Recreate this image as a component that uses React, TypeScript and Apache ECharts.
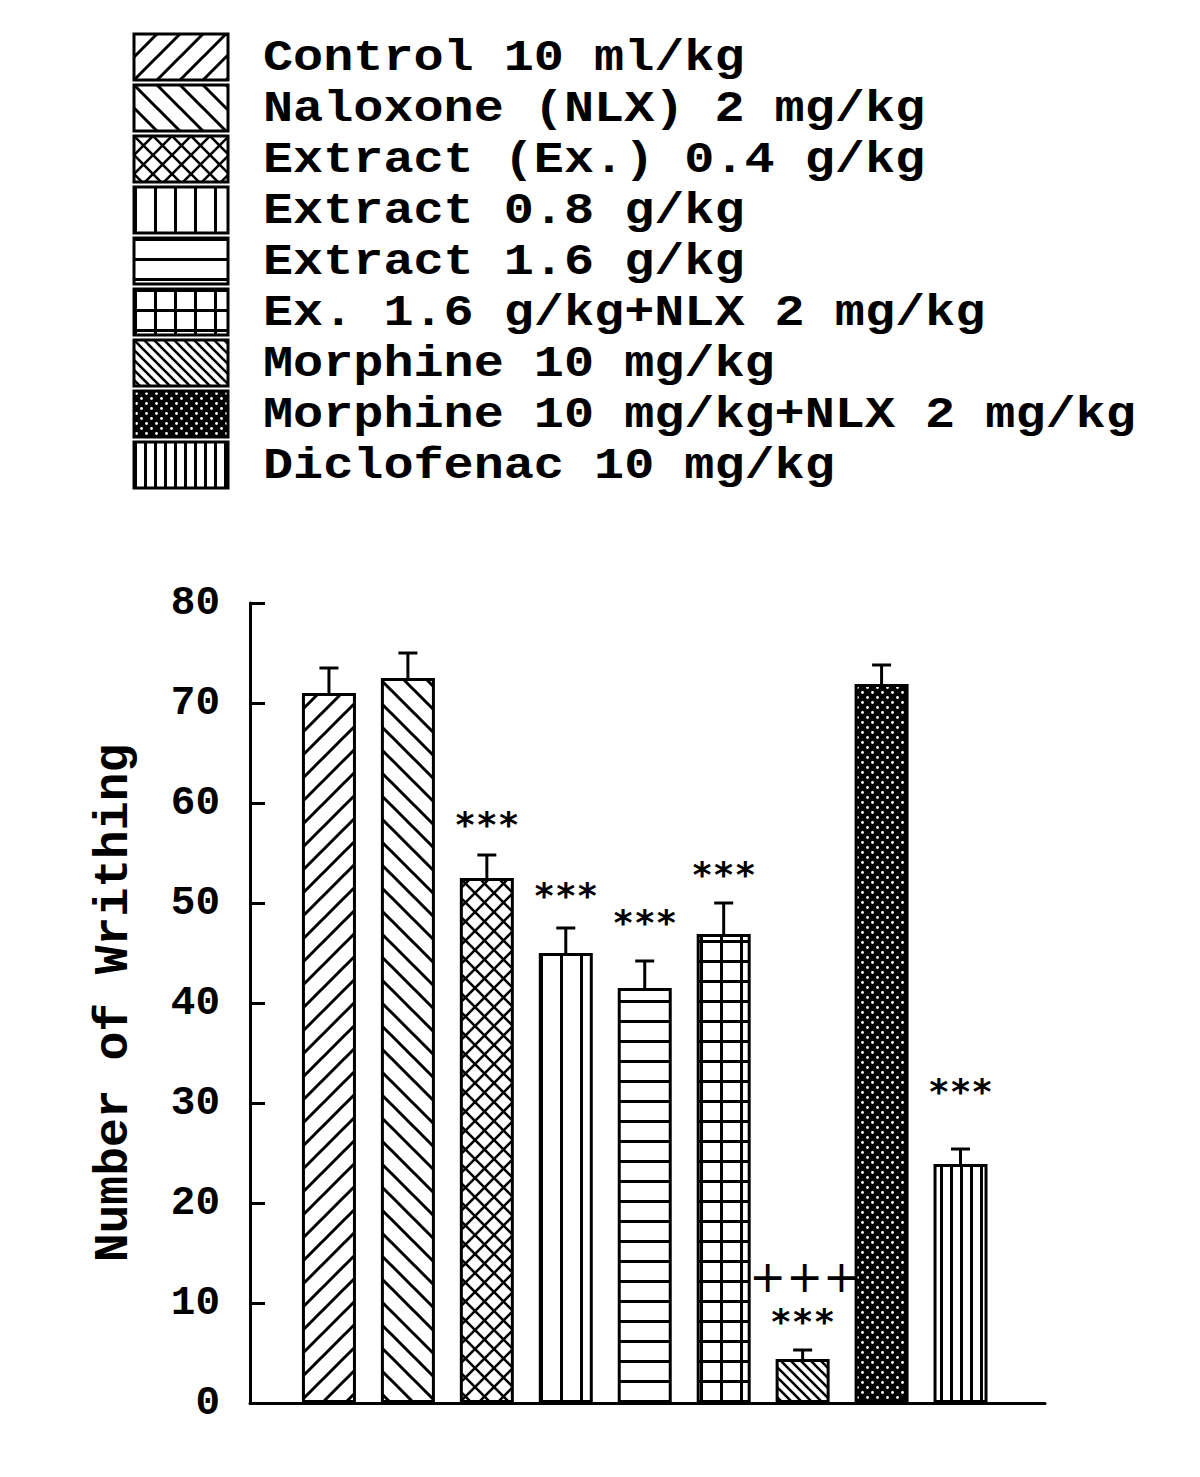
import React, { useEffect, useRef } from "react";
import * as echarts from "echarts";

// ---- data ----
const categories = [
  "Control 10 ml/kg",
  "Naloxone (NLX) 2 mg/kg",
  "Extract (Ex.) 0.4 g/kg",
  "Extract 0.8 g/kg",
  "Extract 1.6 g/kg",
  "Ex. 1.6 g/kg+NLX 2 mg/kg",
  "Morphine 10 mg/kg",
  "Morphine 10 mg/kg+NLX 2 mg/kg",
  "Diclofenac 10 mg/kg",
];
const means = [71.0, 72.5, 52.5, 45.0, 41.5, 46.9, 4.4, 71.9, 23.9];
const errors = [2.5, 2.5, 2.3, 2.5, 2.7, 3.1, 0.9, 1.9, 1.5];
const starLabels = ["", "", "***", "***", "***", "***", "***", "", "***"];
const starLevels = [null, null, 58.3, 51.2, 48.5, 53.3, 8.6, null, 31.6];
const plusLabels = ["", "", "", "", "", "", "+++", "", ""];
const plusLevels = [null, null, null, null, null, null, 12.5, null, null];
const yMin = 0;
const yMax = 80;
const yInterval = 10;
const yTitle = "Number of Writhing";

type Kind =
  | "fwd"
  | "back"
  | "cross"
  | "vert"
  | "horiz"
  | "grid"
  | "backDense"
  | "dots"
  | "vertDense";
const patternKinds: Kind[] = [
  "fwd",
  "back",
  "cross",
  "vert",
  "horiz",
  "grid",
  "backDense",
  "dots",
  "vertDense",
];

const MONO = '"Liberation Mono", "DejaVu Sans Mono", monospace';
const STAR_FONT = '"DejaVu Sans Mono", "Liberation Mono", monospace';
const PLUS_FONT = '"DejaVu Sans", sans-serif';

function makePattern(kind: Kind): any {
  let T = 20;
  if (kind === "fwd" || kind === "back") T = 23;
  if (kind === "cross") T = 19;
  if (kind === "backDense" || kind === "vertDense" || kind === "dots") T = 10;
  const c = document.createElement("canvas");
  c.width = T;
  c.height = T;
  const g = c.getContext("2d")!;
  g.fillStyle = "#fff";
  g.fillRect(0, 0, T, T);
  g.strokeStyle = "#000";
  g.fillStyle = "#000";
  const diag = (dir: number, lw: number) => {
    g.lineWidth = lw;
    for (const k of [-T, 0, T]) {
      g.beginPath();
      if (dir > 0) {
        g.moveTo(k - 2, T + 2);
        g.lineTo(k + T + 2, -2);
      } else {
        g.moveTo(k - 2, -2);
        g.lineTo(k + T + 2, T + 2);
      }
      g.stroke();
    }
  };
  switch (kind) {
    case "fwd":
      diag(1, 3);
      break;
    case "back":
      diag(-1, 3);
      break;
    case "cross":
      diag(1, 2.6);
      diag(-1, 2.6);
      break;
    case "vert":
      g.fillRect(0, 0, 3, T);
      break;
    case "horiz":
      g.fillRect(0, 0, T, 3);
      break;
    case "grid":
      g.fillRect(0, 0, 3, T);
      g.fillRect(0, 0, T, 3);
      break;
    case "backDense":
      diag(-1, 2.6);
      break;
    case "vertDense":
      g.fillRect(0, 0, 3, T);
      break;
    case "dots":
      g.fillRect(0, 0, T, T);
      g.fillStyle = "#fff";
      g.beginPath();
      g.arc(2.5, 2.5, 1.4, 0, Math.PI * 2);
      g.fill();
      g.beginPath();
      g.arc(7.5, 7.5, 1.4, 0, Math.PI * 2);
      g.fill();
      break;
  }
  return { image: c, repeat: "repeat", imageWidth: T, imageHeight: T };
}

export default function App() {
  const ref = useRef<HTMLDivElement>(null);
  useEffect(() => {
    if (!ref.current) return;
    const chart = echarts.init(ref.current, null, { renderer: "svg" });
    const patterns = patternKinds.map((k) => makePattern(k));

    const xs = categories.map((_, i) => i + 1);

    const annotations: any[] = [];
    starLabels.forEach((t, i) => {
      if (t && starLevels[i] != null) annotations.push([xs[i], starLevels[i], i, 0]);
    });
    plusLabels.forEach((t, i) => {
      if (t && plusLevels[i] != null) annotations.push([xs[i], plusLevels[i], i, 1]);
    });

    const legendGraphics: any[] = [];
    categories.forEach((name, i) => {
      legendGraphics.push({
        type: "rect",
        x: 134,
        y: 34 + i * 51,
        shape: { x: 0, y: 0, width: 94, height: 46 },
        style: { fill: patterns[i], stroke: "#000", lineWidth: 3 },
      });
      legendGraphics.push({
        type: "text",
        x: 263,
        y: 58 + i * 51,
        scaleX: 1.14,
        style: {
          text: name,
          fontFamily: MONO,
          fontWeight: "bold",
          fontSize: 44,
          lineHeight: 44,
          fill: "#000",
          verticalAlign: "middle",
          align: "left",
        },
      });
    });

    chart.setOption({
      animation: false,
      backgroundColor: "#fff",
      graphic: legendGraphics,
      grid: { left: 250, top: 603, right: 155, bottom: 74, containLabel: false },
      xAxis: {
        type: "value",
        min: 0,
        max: 10.07,
        axisLine: { show: true, onZero: false, lineStyle: { color: "#000", width: 3 } },
        axisTick: { show: false },
        axisLabel: { show: false },
        splitLine: { show: false },
      },
      yAxis: {
        type: "value",
        min: yMin,
        max: yMax,
        interval: yInterval,
        name: yTitle,
        nameLocation: "middle",
        nameGap: 112,
        nameTextStyle: {
          fontFamily: MONO,
          fontWeight: "bold",
          fontSize: 48,
          color: "#000",
        },
        axisLine: { show: true, lineStyle: { color: "#000", width: 3 } },
        axisTick: { show: true, inside: true, length: 15, lineStyle: { color: "#000", width: 3 } },
        axisLabel: {
          fontFamily: MONO,
          fontWeight: "bold",
          fontSize: 41,
          color: "#000",
          margin: 30,
        },
        splitLine: { show: false },
      },
      series: [
        {
          type: "bar",
          barWidth: 54,
          data: means.map((v, i) => ({
            value: [xs[i], v],
            itemStyle: { color: patterns[i], borderColor: "#000", borderWidth: 3 },
          })),
          z: 2,
        },
        {
          type: "custom",
          z: 3,
          data: means.map((m, i) => [xs[i], m, m + errors[i]]),
          encode: { x: 0, y: [1, 2] },
          renderItem: (params: any, api: any) => {
            const x = api.value(0);
            const p0 = api.coord([x, api.value(1)]);
            const p1 = api.coord([x, api.value(2)]);
            return {
              type: "group",
              children: [
                {
                  type: "line",
                  shape: { x1: p0[0], y1: p0[1], x2: p1[0], y2: p1[1] },
                  style: { stroke: "#000", lineWidth: 3 },
                },
                {
                  type: "line",
                  shape: { x1: p1[0] - 9.5, y1: p1[1], x2: p1[0] + 9.5, y2: p1[1] },
                  style: { stroke: "#000", lineWidth: 3 },
                },
              ],
            };
          },
        },
        {
          type: "custom",
          z: 4,
          data: annotations,
          encode: { x: 0, y: 1 },
          renderItem: (params: any, api: any) => {
            const p = api.coord([api.value(0), api.value(1)]);
            const idx = api.value(2);
            const isPlus = api.value(3) === 1;
            return {
              type: "text",
              x: p[0] + (isPlus ? 2 : 0),
              y: p[1] + (isPlus ? -2 : 4),
              style: {
                text: isPlus ? plusLabels[idx] : starLabels[idx],
                fontFamily: isPlus ? PLUS_FONT : STAR_FONT,
                fontWeight: isPlus ? "normal" : "bold",
                fontSize: isPlus ? 44 : 36,
                lineHeight: isPlus ? 30 : 20,
                fill: "#000",
                align: "center",
                verticalAlign: "middle",
              },
            };
          },
        },
      ],
    });
    return () => chart.dispose();
  }, []);
  return (
    <div
      ref={ref}
      style={{ position: "absolute", left: 0, top: 0, width: 1200, height: 1477 }}
    />
  );
}
